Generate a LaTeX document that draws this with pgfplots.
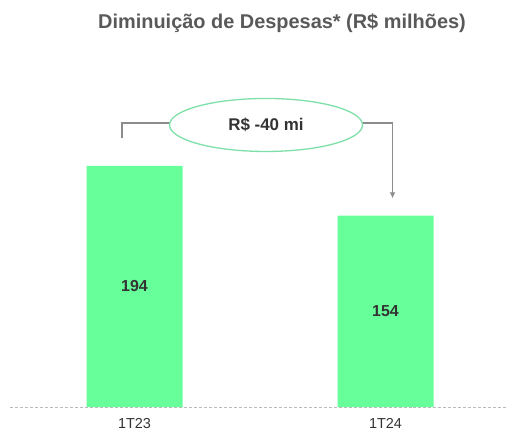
\documentclass[border=0pt]{standalone}
\usepackage{pgfplots}
\pgfplotsset{compat=1.18}
\usetikzlibrary{arrows.meta}
\usepackage{fontspec}
\setmainfont{Liberation Sans}
\definecolor{barg}{HTML}{66FF99}
\definecolor{ellg}{HTML}{7EE0A8}
\definecolor{titg}{HTML}{595959}
\definecolor{txtg}{HTML}{333333}
\definecolor{lineg}{HTML}{8C8C8C}
\begin{document}
\begin{tikzpicture}[x=1bp,y=1bp]
\path[use as bounding box] (0,0) rectangle (507,431);
\node[font=\bfseries\fontsize{20}{22}\selectfont, text=titg] at (282,408) {Diminuição de Despesas* (R\$ milhões)};
\begin{axis}[
  at={(10bp,24bp)}, anchor=south west,
  scale only axis, width=497bp, height=347bp,
  xmin=10, xmax=507, ymin=0, ymax=279.3,
  axis line style={draw=none},
  ytick=\empty,
  xtick={134.5,385.5}, xticklabels={1T23,1T24},
  major tick length=0pt,
  xticklabel style={font=\fontsize{14.5}{15}\selectfont, text=txtg, yshift=-8bp},
  clip=false,
]
\addplot[ybar, bar width=96, fill=barg, draw=none] coordinates {(134.5,194) (385.5,154)};
\draw[lineg!60, densely dashed, line width=0.8bp] (axis cs:10,0) -- (axis cs:507,0);
\node[font=\bfseries\fontsize{16}{18}\selectfont, text=txtg] at (axis cs:134.5,97) {194};
\node[font=\bfseries\fontsize{16}{18}\selectfont, text=txtg] at (axis cs:385.5,77) {154};
% bracket
\draw[lineg, line width=1.4bp] (axis cs:122,216.5) -- (axis cs:122,228.6) -- (axis cs:170,228.6);
\draw[lineg, line width=1.4bp, -{Latex[length=6bp,width=6bp]}] (axis cs:361,228.6) -- (axis cs:392.5,228.6) -- (axis cs:392.5,168);
\draw[ellg, fill=white, line width=1.3bp] (axis cs:266,227) ellipse [x radius=96.5bp, y radius=26.5bp];
\node[font=\bfseries\fontsize{17}{19}\selectfont, text=txtg] at (axis cs:266,227) {R\$ -40 mi};
\end{axis}
\end{tikzpicture}
\end{document}
